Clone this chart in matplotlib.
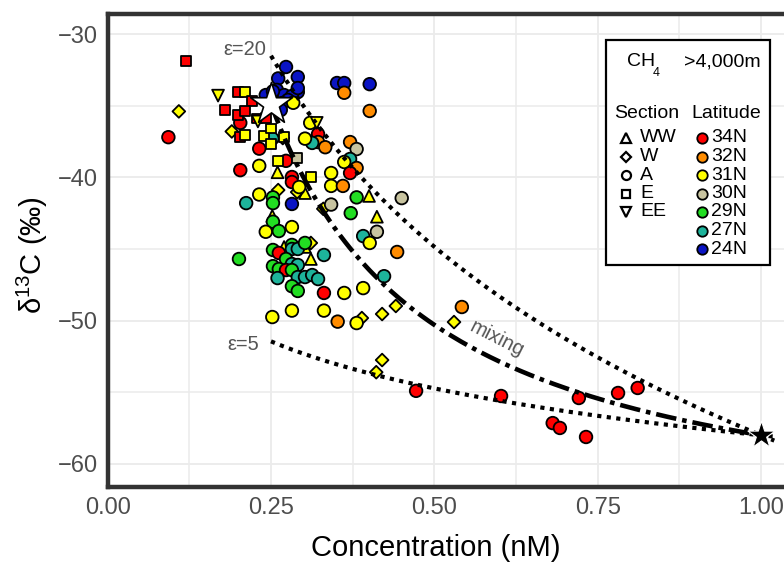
import numpy as np
import matplotlib
matplotlib.use("Agg")
import matplotlib.pyplot as plt
from matplotlib.lines import Line2D
from matplotlib.patches import Rectangle

plt.rcParams['font.family'] = ['Liberation Sans', 'DejaVu Sans']
plt.rcParams['mathtext.fontset'] = 'custom'
plt.rcParams['mathtext.rm'] = 'Liberation Sans'

# ---- data ----
conc = [0.120, 0.109, 0.093, 0.169, 0.200, 0.210, 0.221, 0.180, 0.200, 0.210,
        0.203, 0.203, 0.210, 0.190, 0.228, 0.230, 0.242, 0.232, 0.203, 0.232,
        0.232, 0.212, 0.239, 0.250, 0.252, 0.250, 0.270, 0.268, 0.261, 0.273,
        0.290, 0.260, 0.311, 0.282, 0.282, 0.293, 0.302, 0.290, 0.261, 0.253,
        0.253, 0.282, 0.342, 0.330, 0.342, 0.342, 0.360,
        0.273, 0.261, 0.291, 0.259, 0.291, 0.242, 0.270, 0.282, 0.291, 0.276,
        0.267, 0.265, 0.351, 0.362, 0.401, 0.362, 0.401, 0.284, 0.253,
        0.310, 0.320, 0.322, 0.322, 0.313, 0.302, 0.333, 0.371, 0.381, 0.371,
        0.362, 0.381, 0.371,
        0.381, 0.400, 0.372, 0.412, 0.450, 0.252, 0.253, 0.242, 0.262, 0.282,
        0.201, 0.253, 0.270, 0.282, 0.282, 0.291, 0.302, 0.311, 0.302, 0.331,
        0.311, 0.262, 0.273, 0.253, 0.262, 0.282, 0.291, 0.273, 0.282, 0.260,
        0.291, 0.302, 0.313, 0.322, 0.282, 0.291, 0.331, 0.362, 0.391, 0.423,
        0.412, 0.391, 0.401, 0.443, 0.252, 0.282, 0.331, 0.352, 0.381, 0.389,
        0.420, 0.441, 0.530, 0.542, 0.420, 0.411,
        0.472, 0.602, 0.721, 0.781, 0.811, 0.681, 0.692, 0.732]
d13c = [-31.9, -35.4, -37.2, -34.3, -34.05, -34.05, -34.7, -35.3, -35.65, -35.4,
        -36.2, -37.2, -37.05, -36.8, -35.9, -36.1, -35.86, -38.0, -39.5, -39.2,
        -41.2, -41.8, -37.1, -36.6, -37.3, -37.7, -37.2, -37.26, -38.85, -38.85,
        -38.65, -39.65, -40.0, -39.98, -40.33, -40.68, -41.1, -41.03, -40.89, -41.4,
        -41.8, -41.86, -41.9, -42.2, -39.7, -40.6, -40.6,
        -32.3, -33.1, -33.0, -33.9, -34.05, -34.26, -34.26, -34.33, -33.77, -34.6,
        -34.82, -35.3, -33.42, -33.42, -33.5, -34.1, -35.37, -34.8, -34.0,
        -36.2, -36.2, -36.98, -37.54, -37.6, -37.3, -37.9, -37.54, -38.03, -38.72,
        -38.93, -39.35, -39.7,
        -41.4, -41.3, -42.5, -42.75, -41.45, -42.7, -43.1, -43.8, -43.75, -43.47,
        -45.7, -45.07, -44.86, -44.72, -45.0, -45.0, -44.58, -44.58, -44.86, -45.42,
        -45.7, -45.28, -45.7, -46.2, -46.4, -46.05, -46.12, -46.47, -46.47, -47.03,
        -46.96, -46.96, -46.82, -47.1, -47.6, -47.93, -48.07, -48.07, -47.73, -46.9,
        -43.8, -44.1, -44.58, -45.21, -49.75, -49.3, -49.3, -50.07, -50.17, -49.82,
        -49.54, -48.98, -50.1, -49.05, -52.75, -53.6,
        -54.9, -55.26, -55.4, -55.05, -54.7, -57.15, -57.49, -58.12]
lat = ['34N', '31N', '34N', '31N', '34N', '31N', '34N', '34N', '34N', '34N',
       '34N', '34N', '31N', '31N', '34N', '31N', '34N', '34N', '34N', '31N',
       '31N', '27N', '31N', '31N', '27N', '31N', '31N', '31N', '31N', '34N',
       '30N', '31N', '31N', '34N', '34N', '31N', '31N', '31N', '31N', '29N',
       '29N', '24N', '30N', '31N', '31N', '31N', '32N',
       '24N', '24N', '24N', '24N', '24N', '24N', '24N', '24N', '24N', '24N',
       '24N', '24N', '24N', '24N', '24N', '32N', '32N', '31N', '24N',
       '31N', '31N', '34N', '32N', '27N', '31N', '32N', '32N', '30N', '27N',
       '31N', '32N', '34N',
       '29N', '31N', '29N', '31N', '30N', '31N', '29N', '31N', '29N', '31N',
       '29N', '29N', '31N', '29N', '27N', '27N', '29N', '31N', '31N', '27N',
       '31N', '34N', '29N', '29N', '29N', '27N', '27N', '34N', '29N', '27N',
       '27N', '27N', '27N', '27N', '29N', '29N', '34N', '31N', '31N', '27N',
       '30N', '27N', '31N', '32N', '31N', '31N', '31N', '32N', '31N', '31N',
       '31N', '31N', '31N', '32N', '31N', '31N',
       '34N', '34N', '34N', '34N', '34N', '34N', '34N', '34N']
section = ['E', 'W', 'A', 'EE', 'E', 'E', 'E', 'E', 'E', 'E',
           'A', 'E', 'E', 'W', 'E', 'EE', 'E', 'A', 'A', 'A',
           'A', 'A', 'E', 'E', 'A', 'E', 'E', 'W', 'E', 'A',
           'E', 'WW', 'E', 'A', 'A', 'A', 'WW', 'W', 'W', 'A',
           'A', 'A', 'A', 'W', 'A', 'A', 'A',
           'A', 'A', 'A', 'A', 'A', 'A', 'A', 'A', 'A', 'A',
           'A', 'A', 'A', 'A', 'A', 'A', 'A', 'A', 'A',
           'A', 'EE', 'A', 'A', 'A', 'A', 'A', 'A', 'A', 'A',
           'A', 'A', 'A',
           'A', 'WW', 'A', 'WW', 'A', 'WW', 'A', 'A', 'A', 'A',
           'A', 'A', 'WW', 'A', 'A', 'A', 'A', 'W', 'WW', 'A',
           'WW', 'A', 'A', 'A', 'A', 'A', 'A', 'A', 'A', 'A',
           'A', 'A', 'A', 'A', 'A', 'A', 'A', 'A', 'A', 'A',
           'A', 'A', 'A', 'A', 'A', 'A', 'A', 'A', 'A', 'W',
           'W', 'W', 'W', 'A', 'W', 'W',
           'A', 'A', 'A', 'A', 'A', 'A', 'A', 'A']

# end members of the model curves
source_conc, source_d13c = 1.00, -58.0      # black star
background_conc, background_d13c = 0.25, -34.9   # white star
epsilons = [20, 5]

lat_order = ['34N', '32N', '31N', '30N', '29N', '27N', '24N']
lat_colors = {'34N': '#FF0000', '32N': '#FF8C00', '31N': '#FFFF00',
              '30N': '#C8C4A0', '29N': '#22DD22', '27N': '#1DB39B',
              '24N': '#0A14C4'}
sec_order = ['WW', 'W', 'A', 'E', 'EE']
sec_markers = {'WW': '^', 'W': 'D', 'A': 'o', 'E': 's', 'EE': 'v'}
sec_sizes = {'WW': 72, 'W': 42, 'A': 82, 'E': 50, 'EE': 72}

W, H = 784, 566
fig = plt.figure(figsize=(W / 100, H / 100), dpi=100)
ax = fig.add_axes([107.6 / W, 1 - 487 / H, 653.6 * 1.05 / W, (487 - 13.8) / H])

# points
conc_a = np.array(conc)
d13c_a = np.array(d13c)
lat_a = np.array(lat)
sec_a = np.array(section)
for s in sec_order:
    m = sec_a == s
    ax.scatter(conc_a[m], d13c_a[m], marker=sec_markers[s], s=sec_sizes[s],
               c=[lat_colors[l] for l in lat_a[m]], edgecolors='black',
               linewidths=1.3, zorder=3)

# model curves: Rayleigh fractionation from the deep source, and mixing
for eps in epsilons:
    c = np.linspace(background_conc, source_conc + 0.02, 200)
    d = (source_d13c + 1000) * (c / source_conc) ** (-eps / 1000) - 1000
    ax.plot(c, d, color='black', lw=3.0, linestyle=(0, (1, 1.3)), zorder=4)

c = np.linspace(background_conc, source_conc, 200)
f = (c - background_conc) / (source_conc - background_conc)
d = (f * source_conc * source_d13c
     + (1 - f) * background_conc * background_d13c) / c
ax.plot(c, d, color='black', lw=3.3, linestyle=(0, (4.5, 1.3, 1, 1.3)), zorder=4)

# end-member stars
ax.scatter([background_conc], [background_d13c], marker='*', s=1000,
           facecolor='white', edgecolor='black', linewidths=1.2, zorder=5)
ax.scatter([source_conc], [source_d13c], marker='*', s=420,
           facecolor='black', edgecolor='white', linewidths=0.8, zorder=5)

ax.text(0.21, -31.1, 'ε=20', color='#555555', fontsize=14.5, ha='center', va='center')
ax.text(0.207, -51.7, 'ε=5', color='#555555', fontsize=14.5, ha='center', va='center')
ax.text(0.596, -51.3, 'mixing', color='#555555', fontsize=14.5, ha='center',
        va='center', rotation=-27)

# axes styling
ax.set_xlim(0, 1.05)
ax.set_ylim(-61.61, -28.59)
ax.set_xticks([0, 0.25, 0.5, 0.75, 1.0])
ax.set_xticklabels(['0.00', '0.25', '0.50', '0.75', '1.00'])
ax.set_yticks([-30, -40, -50, -60])
ax.set_yticklabels(['\u221230', '\u221240', '\u221250', '\u221260'])
ax.set_xticks([0.125, 0.375, 0.625, 0.875], minor=True)
ax.set_yticks([-35, -45, -55], minor=True)
ax.tick_params(which='both', length=0, labelsize=17, labelcolor='#4D4D4D', pad=7)
ax.grid(which='major', color='#EBEBEB', lw=1.3, zorder=0)
ax.grid(which='minor', color='#EBEBEB', lw=1.1, zorder=0)
ax.set_axisbelow(True)
for sp in ax.spines.values():
    sp.set_color('#333333')
    sp.set_linewidth(3.2)

fig.text(436 / W, 1 - 548 / H, 'Concentration (nM)', fontsize=21,
         ha='center', va='center')
fig.text(32 / W, 1 - 255 / H, 'δ$^{\\mathregular{13}}$C (‰)', fontsize=21,
         ha='center', va='center', rotation=90)

# legend box
def fp(x, y):
    return x / W, 1 - y / H

bx0, by0 = fp(606, 265)
bx1, by1 = fp(770, 40)
fig.add_artist(Rectangle((bx0, by0), bx1 - bx0, by1 - by0, transform=fig.transFigure,
                         facecolor='white', edgecolor='black', lw=1.6, zorder=10))
fig.text(*fp(627, 62), 'CH', fontsize=14, ha='left', va='center', zorder=11)
fig.text(*fp(653, 73), '4', fontsize=9, ha='left', va='center', zorder=11)
fig.text(*fp(684, 62), '>4,000m', fontsize=14, ha='left', va='center', zorder=11)
fig.text(*fp(614, 113), 'Section', fontsize=14, ha='left', va='center', zorder=11)
fig.text(*fp(691, 113), 'Latitude', fontsize=14, ha='left', va='center', zorder=11)
step = 18.5
for i, s in enumerate(sec_order):
    y = 138 + i * step
    fig.add_artist(Line2D([fp(626, y)[0]], [fp(626, y)[1]], marker=sec_markers[s],
                          markersize=6.5 if s in ('WW', 'EE', 'A') else 5.2,
                          markerfacecolor='white', markeredgecolor='black',
                          markeredgewidth=1.6, transform=fig.transFigure, zorder=11))
    fig.text(*fp(640, y), s, fontsize=14, ha='left', va='center', zorder=11)
for i, l in enumerate(lat_order):
    y = 138 + i * step
    fig.add_artist(Line2D([fp(702, y)[0]], [fp(702, y)[1]], marker='o',
                          markersize=7.5, markerfacecolor=lat_colors[l],
                          markeredgecolor='black', markeredgewidth=1.3,
                          transform=fig.transFigure, zorder=11))
    fig.text(*fp(711, y), l, fontsize=14, ha='left', va='center', zorder=11)

fig.savefig('out.png', dpi=100)
